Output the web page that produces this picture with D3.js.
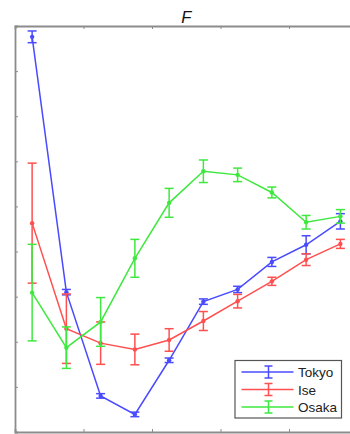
<!DOCTYPE html>
<html>
<head>
<meta charset="utf-8">
<script src="https://cdn.jsdelivr.net/npm/d3@7/dist/d3.min.js"></script>
<style>
  html, body { margin: 0; padding: 0; background: #fff; }
  svg { display: block; }
</style>
</head>
<body>
<svg id="chart" width="350" height="434"></svg>
<script>
// Sample positions along the x axis
const positions = [0.25, 0.75, 1.25, 1.75, 2.25, 2.75, 3.25, 3.75, 4.25, 4.75];

// Series means and error half-widths
const tokyoMean = [8.76, 3.10, 0.80, 0.39, 1.59, 2.89, 3.16, 3.77, 4.15, 4.67];
const tokyoErr  = [0.13, 0.06, 0.05, 0.05, 0.05, 0.06, 0.07, 0.10, 0.20, 0.17];
const iseMean   = [4.63, 2.29, 1.97, 1.83, 2.04, 2.46, 2.90, 3.34, 3.82, 4.17];
const iseErr    = [1.33, 0.77, 0.47, 0.34, 0.25, 0.21, 0.15, 0.09, 0.13, 0.10];
const osakaMean = [3.09, 1.87, 2.44, 3.85, 5.08, 5.78, 5.70, 5.31, 4.65, 4.78];
const osakaErr  = [1.07, 0.46, 0.54, 0.42, 0.32, 0.25, 0.15, 0.12, 0.15, 0.15];

const seriesNames = ["Tokyo", "Ise", "Osaka"];
const seriesColors = ["#4a4aff", "#ff4f4f", "#3ee83e"];
const titleText = "F";

const series = [
  { name: seriesNames[0], mean: tokyoMean, err: tokyoErr, color: seriesColors[0] },
  { name: seriesNames[1], mean: iseMean,   err: iseErr,   color: seriesColors[1] },
  { name: seriesNames[2], mean: osakaMean, err: osakaErr, color: seriesColors[2] }
];

const svg = d3.select("#chart");
const plotLeft = 15, plotTop = 26, plotRight = 357.5, plotBottom = 432;

const x = d3.scaleLinear().domain([0, 5]).range([plotLeft, plotRight]);
const y = d3.scaleLinear().domain([0, 9]).range([plotBottom, plotTop]);

const axisColor = "#8c8c8c";

// Title
svg.append("text")
  .attr("x", x(2.5)).attr("y", 22.5)
  .attr("text-anchor", "middle")
  .attr("font-family", "Liberation Sans, Arial, sans-serif")
  .attr("font-style", "italic")
  .attr("font-size", 16.5)
  .attr("fill", "#111")
  .text(titleText);

// Axes with inward ticks and no labels
const g = svg.append("g");
g.append("g").attr("transform", `translate(0,${plotBottom})`)
  .call(d3.axisBottom(x).tickValues([1, 2, 3, 4]).tickSize(-3).tickFormat(""));
g.append("g").attr("transform", `translate(0,${plotTop})`)
  .call(d3.axisTop(x).tickValues([1, 2, 3, 4]).tickSize(-3).tickFormat(""));
g.append("g").attr("transform", `translate(${plotLeft},0)`)
  .call(d3.axisLeft(y).tickValues(d3.range(1, 9)).tickSize(-3).tickFormat(""));
g.append("g").attr("transform", `translate(${plotRight},0)`)
  .call(d3.axisRight(y).tickValues(d3.range(1, 9)).tickSize(-3).tickFormat(""));
g.selectAll(".domain").attr("stroke", axisColor).attr("stroke-width", 1.8);
g.selectAll(".tick line").attr("stroke", axisColor).attr("stroke-width", 1);

// Series: lines, error bars, markers
const line = d3.line().x((d, i) => x(positions[i])).y(d => y(d));
const capHalf = 4.5;

series.forEach(s => {
  const sg = svg.append("g");
  sg.append("path")
    .datum(s.mean)
    .attr("d", line)
    .attr("fill", "none")
    .attr("stroke", s.color)
    .attr("stroke-width", 1.5);

  const eb = sg.selectAll("g.eb").data(s.mean).enter().append("g");
  eb.append("line")
    .attr("x1", (d, i) => x(positions[i])).attr("x2", (d, i) => x(positions[i]))
    .attr("y1", (d, i) => y(d + s.err[i])).attr("y2", (d, i) => y(d - s.err[i]))
    .attr("stroke", s.color).attr("stroke-width", 1.5);
  eb.append("line")
    .attr("x1", (d, i) => x(positions[i]) - capHalf).attr("x2", (d, i) => x(positions[i]) + capHalf)
    .attr("y1", (d, i) => y(d + s.err[i])).attr("y2", (d, i) => y(d + s.err[i]))
    .attr("stroke", s.color).attr("stroke-width", 1.5);
  eb.append("line")
    .attr("x1", (d, i) => x(positions[i]) - capHalf).attr("x2", (d, i) => x(positions[i]) + capHalf)
    .attr("y1", (d, i) => y(d - s.err[i])).attr("y2", (d, i) => y(d - s.err[i]))
    .attr("stroke", s.color).attr("stroke-width", 1.5);
  eb.append("circle")
    .attr("cx", (d, i) => x(positions[i]))
    .attr("cy", d => y(d))
    .attr("r", 2.2)
    .attr("fill", s.color);
});

// Legend
const lg = svg.append("g");
lg.append("rect")
  .attr("x", 235).attr("y", 360.5)
  .attr("width", 106.5).attr("height", 57.5)
  .attr("fill", "#fff")
  .attr("stroke", "#555").attr("stroke-width", 1.2);

series.forEach((s, k) => {
  const ry = 372 + k * 17.5;
  lg.append("line").attr("x1", 241.5).attr("x2", 293.5).attr("y1", ry).attr("y2", ry)
    .attr("stroke", s.color).attr("stroke-width", 1.5);
  lg.append("line").attr("x1", 268.5).attr("x2", 268.5).attr("y1", ry - 6).attr("y2", ry + 6)
    .attr("stroke", s.color).attr("stroke-width", 1.5);
  lg.append("line").attr("x1", 264.5).attr("x2", 272.5).attr("y1", ry - 6).attr("y2", ry - 6)
    .attr("stroke", s.color).attr("stroke-width", 1.5);
  lg.append("line").attr("x1", 264.5).attr("x2", 272.5).attr("y1", ry + 6).attr("y2", ry + 6)
    .attr("stroke", s.color).attr("stroke-width", 1.5);
  lg.append("text")
    .attr("x", 298).attr("y", ry + 5)
    .attr("font-family", "Liberation Sans, Arial, sans-serif")
    .attr("font-size", 13.5)
    .attr("fill", "#222")
    .text(s.name);
});
</script>
</body>
</html>
